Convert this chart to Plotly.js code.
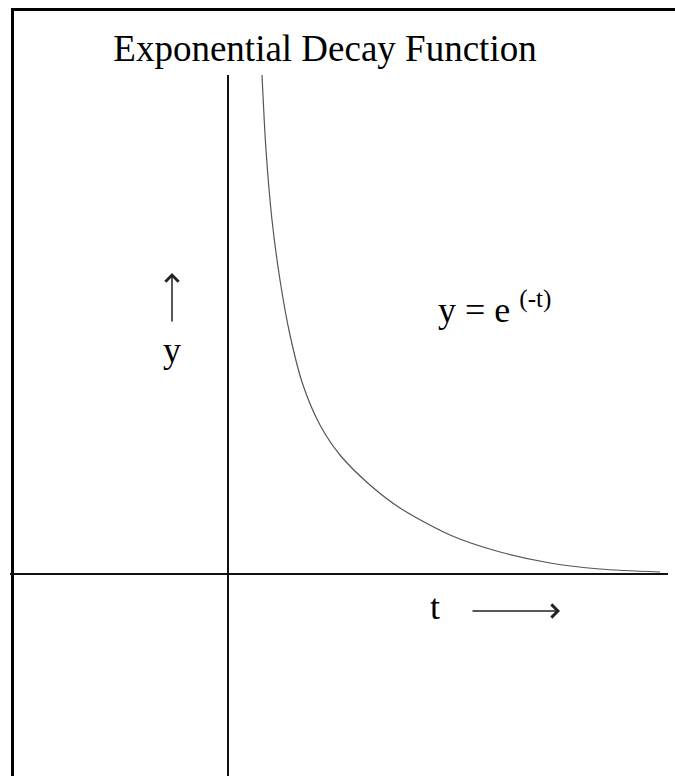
<!DOCTYPE html>
<html>
<head>
<meta charset="utf-8">
<script src="https://cdn.plot.ly/plotly-3.0.1.min.js"></script>
<style>
  html, body { margin: 0; padding: 0; background: #ffffff; overflow: hidden; }
  #frame { position: absolute; left: 11px; top: 8px; width: 720px; height: 820px;
           border-top: 3px solid #000; border-left: 3px solid #000; }
  #chart { position: absolute; left: 0; top: 0; width: 675px; height: 776px; }
</style>
</head>
<body>
<div id="frame"></div>
<div id="chart"></div>
<script>
// Curve (t, y in chart units)
const tValues = [0.34, 0.38, 0.44, 0.52, 0.62, 0.75, 0.92, 1.12, 1.42, 1.72, 2.22, 2.72, 3.22, 3.72, 4.32];
const yValues = [4.99, 4.24, 3.54, 2.94, 2.39, 1.89, 1.49, 1.19, 0.89, 0.66, 0.39, 0.22, 0.11, 0.05, 0.02];

const titleText = 'Exponential Decay Function';
const formulaText = 'y = e <sup>(-t)</sup>';
const yLabel = 'y';
const tLabel = 't';

const serif = "'Liberation Serif', 'Times New Roman', serif";

const trace = {
  x: tValues, y: yValues, type: 'scatter', mode: 'lines',
  line: { color: '#555555', width: 1.2, shape: 'spline', smoothing: 0.8 },
  hoverinfo: 'skip'
};

const axisCommon = {
  showgrid: false, showticklabels: false, ticks: '', showline: false,
  zeroline: true, zerolinecolor: '#111111', zerolinewidth: 1.6, fixedrange: true
};

const layout = {
  width: 675, height: 776,
  margin: { l: 10, r: 7, t: 75, b: 0, pad: 0 },
  paper_bgcolor: 'rgba(0,0,0,0)', plot_bgcolor: 'rgba(0,0,0,0)',
  showlegend: false,
  title: {
    text: titleText,
    font: { family: serif, size: 37, color: '#000' },
    xref: 'container', x: 325 / 675, xanchor: 'center',
    yref: 'container', y: 1 - 48 / 776, yanchor: 'middle'
  },
  xaxis: Object.assign({ range: [-2.18, 4.40] }, axisCommon),
  yaxis: Object.assign({ range: [-2.02, 4.99] }, axisCommon),
  annotations: [
    { // up arrow
      x: -0.56, y: 3.01, xref: 'x', yref: 'y', text: '', showarrow: true,
      ax: 0, ay: 50, arrowhead: 4, arrowsize: 1.7, arrowwidth: 1.5, arrowcolor: '#222'
    },
    { text: yLabel, x: -0.56, y: 2.24, xref: 'x', yref: 'y', showarrow: false,
      xanchor: 'center', yanchor: 'middle', font: { family: serif, size: 36, color: '#000' } },
    { text: formulaText, x: 2.08, y: 2.67, xref: 'x', yref: 'y', showarrow: false,
      xanchor: 'left', yanchor: 'middle', font: { family: serif, size: 36, color: '#000' } },
    { text: tLabel, x: 2.07, y: -0.33, xref: 'x', yref: 'y', showarrow: false,
      xanchor: 'center', yanchor: 'middle', font: { family: serif, size: 36, color: '#000' } },
    { // right arrow
      x: 3.32, y: -0.37, xref: 'x', yref: 'y', text: '', showarrow: true,
      ax: -89, ay: 0, arrowhead: 4, arrowsize: 1.7, arrowwidth: 1.5, arrowcolor: '#222'
    }
  ]
};

Plotly.newPlot('chart', [trace], layout, { displayModeBar: false, staticPlot: true });
</script>
</body>
</html>
